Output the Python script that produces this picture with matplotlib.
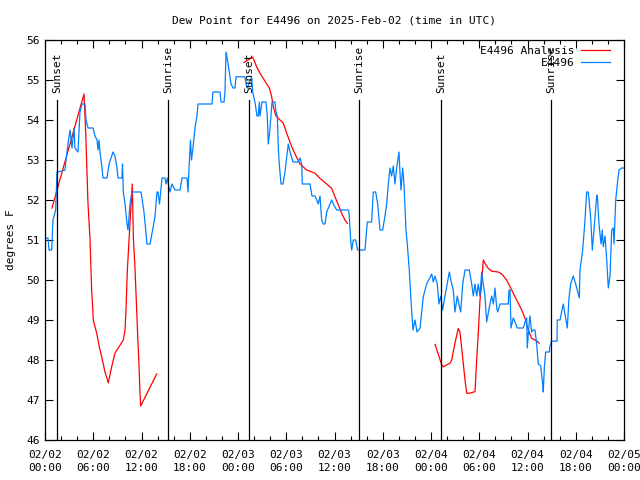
"""
Dew point time series for station E4496, gnuplot-style look.
"""
import datetime as dt
import matplotlib
matplotlib.use("Agg")
import matplotlib.pyplot as plt
import matplotlib.dates as mdates

start = dt.datetime(2025, 2, 2, 0, 0)

# observed dew point (hours after 02/02 00:00 UTC, deg F)
obs_hours = [0.00, 0.37, 0.50, 0.83, 0.99, 1.33, 1.49, 1.65, 2.49, 2.61, 2.86, 3.11, 3.36, 3.61, 3.73,
             4.10, 4.35, 4.60, 4.97, 5.10, 5.35, 5.97, 6.22, 6.47, 6.59, 6.71, 6.84, 7.09, 7.21, 7.71,
             7.96, 8.46, 8.70, 8.95, 9.08, 9.57, 9.64, 9.74, 9.95, 10.20, 10.32, 10.57, 10.82, 11.94,
             12.31, 12.68, 13.06, 13.43, 13.68, 13.93, 14.05, 14.24, 14.55, 14.92, 15.05, 15.23, 15.42,
             15.54, 15.79, 16.17, 16.79, 17.04, 17.66, 17.78, 17.91, 18.09, 18.22, 18.40, 18.65, 18.90,
             19.03, 20.77, 20.89, 21.76, 21.89, 22.26, 22.38, 22.51, 22.69, 22.88, 23.13, 23.38, 23.63,
             23.75, 24.87, 25.00, 25.16, 25.37, 25.70, 25.83, 26.11, 26.36, 26.52, 26.65, 26.73, 26.98,
             27.48, 27.64, 27.77, 27.98, 28.23, 28.60, 28.72, 28.89, 29.01, 29.13, 29.35, 29.60, 29.84,
             30.25, 30.47, 30.84, 31.46, 31.71, 31.92, 32.00, 32.95, 33.20, 33.57, 33.79, 33.98, 34.20,
             34.28, 34.41, 34.61, 34.82, 35.03, 35.44, 35.65, 35.85, 36.27, 37.71, 37.80, 38.01, 38.14,
             38.34, 38.63, 38.88, 39.79, 40.08, 40.62, 40.82, 41.12, 41.37, 41.66, 41.99, 42.28, 42.49,
             42.69, 42.90, 43.11, 43.31, 43.52, 43.73, 44.02, 44.14, 44.27, 44.48, 44.64, 44.89, 45.05,
             45.30, 45.51, 45.76, 46.01, 46.26, 46.63, 47.04, 47.46, 48.09, 48.28, 48.50, 48.78, 48.99,
             49.21, 49.45, 49.74, 50.28, 50.57, 50.77, 50.98, 51.27, 51.52, 51.69, 51.94, 52.23, 52.76,
             53.06, 53.26, 53.47, 53.68, 53.88, 54.09, 54.30, 54.71, 54.92, 55.33, 55.55, 55.75, 55.96,
             56.17, 56.29, 56.58, 57.61, 57.70, 57.82, 57.95, 58.23, 58.44, 58.73, 59.48, 59.69, 59.90,
             59.97, 60.22, 60.31, 60.52, 60.72, 60.93, 61.14, 61.34, 61.64, 61.89, 61.96, 62.09, 62.26,
             62.71, 62.80, 63.01, 63.67, 63.70, 64.04, 64.25, 64.45, 64.79, 64.95, 65.16, 65.37, 65.69,
             65.99, 66.19, 66.44, 66.53, 66.86, 67.15, 67.36, 67.56, 67.65, 67.86, 68.06, 68.27, 68.60,
             68.68, 68.89, 69.14, 69.30, 69.42, 69.64, 69.85, 70.05, 70.26, 70.47, 70.67, 70.76, 70.97,
             71.17, 71.38, 71.71, 72.00]
obs_vals = [51.05, 51.05, 50.75, 50.75, 51.5, 51.75, 52.7, 52.7, 52.75, 53.0, 53.4, 53.75, 53.3, 53.8, 53.3,
            53.2, 54.2, 54.4, 54.4, 54.0, 53.8, 53.8, 53.6, 53.5, 53.25, 53.5, 53.2, 52.8, 52.55, 52.55,
            52.9, 53.2, 53.1, 52.8, 52.55, 52.55, 52.9, 52.2, 51.9, 51.4, 51.25, 51.9, 52.2, 52.2,
            51.7, 50.9, 50.9, 51.3, 51.6, 52.2, 52.2, 51.9, 52.55, 52.55, 52.4, 52.55, 52.3,
            52.2, 52.4, 52.25, 52.25, 52.55, 52.55, 52.2, 52.8, 53.5, 53.0, 53.3, 53.8, 54.1,
            54.4, 54.4, 54.7, 54.7, 54.45, 54.45, 54.7, 55.7, 55.5, 55.25, 54.9, 54.8, 54.8,
            55.08, 55.08, 54.9, 54.8, 54.9, 55.08, 54.7, 54.45, 54.1, 54.1, 54.45, 54.1, 54.45,
            54.45, 54.1, 53.4, 53.8, 54.45, 54.45, 54.2, 54.1, 53.3, 52.9, 52.4, 52.4, 52.7,
            53.4, 53.2, 52.95, 52.95, 53.05, 52.9, 52.4, 52.4, 52.1, 52.1, 52.0, 51.9, 52.1,
            51.85, 51.5, 51.4, 51.4, 51.7, 51.9, 52.0, 51.9, 51.75, 51.75, 51.7, 51.0, 50.75,
            51.0, 51.0, 50.75, 50.75, 51.45, 51.45, 52.2, 52.2, 51.9, 51.25, 51.25, 51.6, 51.9,
            52.4, 52.8, 52.6, 52.85, 52.4, 52.8, 53.2, 52.7, 52.25, 52.8, 52.4, 51.25, 50.9,
            50.25, 49.5, 48.75, 49.0, 48.7, 48.8, 49.58, 49.9, 50.15, 49.95, 50.1, 49.9, 49.4,
            49.6, 49.25, 49.6, 50.2, 49.9, 49.75, 49.2, 49.6, 49.35, 49.2, 49.9, 50.25, 50.25,
            49.9, 49.6, 49.9, 49.6, 49.9, 49.6, 50.2, 49.6, 48.95, 49.4, 49.6, 49.4, 49.8,
            49.3, 49.2, 49.4, 49.4, 49.75, 49.75, 48.8, 49.05, 48.95, 48.8, 48.8, 48.95, 49.05,
            48.3, 48.95, 49.1, 48.7, 48.75, 48.75, 48.4, 47.9, 47.85, 47.4, 47.2, 47.8, 48.2,
            48.2, 48.35, 48.47, 48.47, 49.0, 49.0, 49.2, 49.4, 49.0, 48.8, 49.55, 49.9, 50.1,
            49.9, 49.75, 49.55, 50.25, 50.75, 51.5, 52.2, 52.2, 52.0, 51.55, 50.75, 51.25, 52.1,
            52.12, 51.4, 50.9, 51.25, 50.83, 51.1, 50.5, 49.8, 50.1, 51.25, 51.3, 50.9, 52.0,
            52.4, 52.75, 52.8, 52.8]

# analysis runs (three separate pieces)
ana1_hours = [0.87, 4.85, 5.06, 5.35, 5.60, 5.80, 5.93, 6.00, 6.43, 6.75, 7.05, 7.46, 7.87, 8.29, 8.70,
              9.10, 9.74, 9.95, 10.07, 10.23, 10.45, 10.85, 11.00, 11.19, 11.40, 11.53, 11.69, 11.81,
              11.90, 13.89]
ana1_vals = [51.8, 54.65, 53.7, 51.9, 51.0, 49.75, 49.3, 49.0, 48.67, 48.33, 48.08, 47.7, 47.43, 47.83, 48.17,
             48.3, 48.5, 48.75, 49.25, 50.2, 51.0, 52.4, 51.0, 50.3, 49.25, 48.58, 47.87, 47.17,
             46.85, 47.65]
ana2_hours = [24.75, 25.24, 25.83, 26.32, 26.73, 27.57, 27.90, 28.19, 28.39, 28.72, 29.63, 30.06, 30.68,
              31.30, 31.71, 32.54, 33.57, 34.20, 35.03, 35.65, 36.06, 36.47, 36.89, 37.30, 37.59]
ana2_vals = [55.44, 55.5, 55.57, 55.33, 55.17, 54.9, 54.8, 54.58, 54.33, 54.1, 53.92, 53.67, 53.33,
             53.06, 52.9, 52.75, 52.67, 52.54, 52.4, 52.29, 52.08, 51.88, 51.67, 51.5, 51.42]
ana3_hours = [48.50, 48.90, 49.33, 49.53, 50.36, 50.57, 50.98, 51.39, 51.60, 51.82, 52.01, 52.23, 52.44,
              52.85, 53.47, 53.68, 53.88, 54.09, 54.30, 54.50, 54.71, 55.12, 55.55, 56.37, 56.79, 57.41,
              58.03, 58.65, 59.28, 59.69, 60.10, 60.52, 61.14, 61.46]
ana3_vals = [48.39, 48.15, 47.88, 47.83, 47.92, 48.0, 48.42, 48.79, 48.7, 48.29, 47.92, 47.5, 47.17,
             47.17, 47.21, 48.0, 48.67, 49.5, 49.92, 50.5, 50.42, 50.29, 50.22, 50.2, 50.15, 50.0,
             49.75, 49.5, 49.25, 49.04, 48.75, 48.54, 48.48, 48.42]

# sun events (hours after start)
sun_hours = [1.53, 15.29, 25.37, 39.04, 49.24, 62.92]
sun_labels = ["Sunset", "Sunrise", "Sunset", "Sunrise", "Sunset", "Sunrise"]

def to_time(hours):
    return [start + dt.timedelta(hours=h) for h in hours]

mono = "DejaVu Sans Mono"
plt.rcParams["font.family"] = mono
plt.rcParams["font.size"] = 8

fig = plt.figure(figsize=(6.4, 4.8), dpi=100)
ax = fig.add_axes([45 / 640, 40 / 480, 579 / 640, 400 / 480])

red = "#ff0000"
blue = "#0080ff"
ax.plot(to_time(ana1_hours), ana1_vals, color=red, lw=0.9, label="E4496 Analysis")
ax.plot(to_time(ana2_hours), ana2_vals, color=red, lw=0.9)
ax.plot(to_time(ana3_hours), ana3_vals, color=red, lw=0.9)
ax.plot(to_time(obs_hours), obs_vals, color=blue, lw=0.9, label="E4496")

for h, lab in zip(sun_hours, sun_labels):
    t = start + dt.timedelta(hours=h)
    ax.plot([t, t], [46, 54.5], color="black", lw=0.9)
    ax.text(t, 54.68, lab, rotation=90, ha="center", va="bottom", fontsize=8)

ax.set_xlim(start, start + dt.timedelta(hours=72))
ax.set_ylim(46, 56)
ax.set_yticks(range(46, 57))
ax.xaxis.set_major_locator(mdates.HourLocator(byhour=[0, 6, 12, 18]))
ax.xaxis.set_minor_locator(mdates.HourLocator(byhour=range(0, 24, 2)))
ax.xaxis.set_major_formatter(mdates.DateFormatter("%m/%d\n%H:%M"))
ax.tick_params(which="both", direction="in", top=True, right=True, labelsize=8)
ax.tick_params(which="major", length=6, width=0.8)
ax.tick_params(axis="x", which="major", pad=7)
ax.tick_params(which="minor", length=3, width=0.8)
for s in ax.spines.values():
    s.set_linewidth(0.9)
for lbl in ax.get_xticklabels():
    lbl.set_linespacing(1.35)

ax.set_title("Dew Point for E4496 on 2025-Feb-02 (time in UTC)", fontsize=8, pad=12)
ax.set_ylabel("degrees F", fontsize=8, labelpad=8)

ax.legend(loc="upper right", frameon=False, markerfirst=False, fontsize=8,
          handlelength=2.6, handletextpad=0.6, labelspacing=0.2,
          borderaxespad=0, borderpad=0, bbox_to_anchor=(565 / 579, 0.985))

plt.savefig("out.png", dpi=100)
print("Saved: out.png")
